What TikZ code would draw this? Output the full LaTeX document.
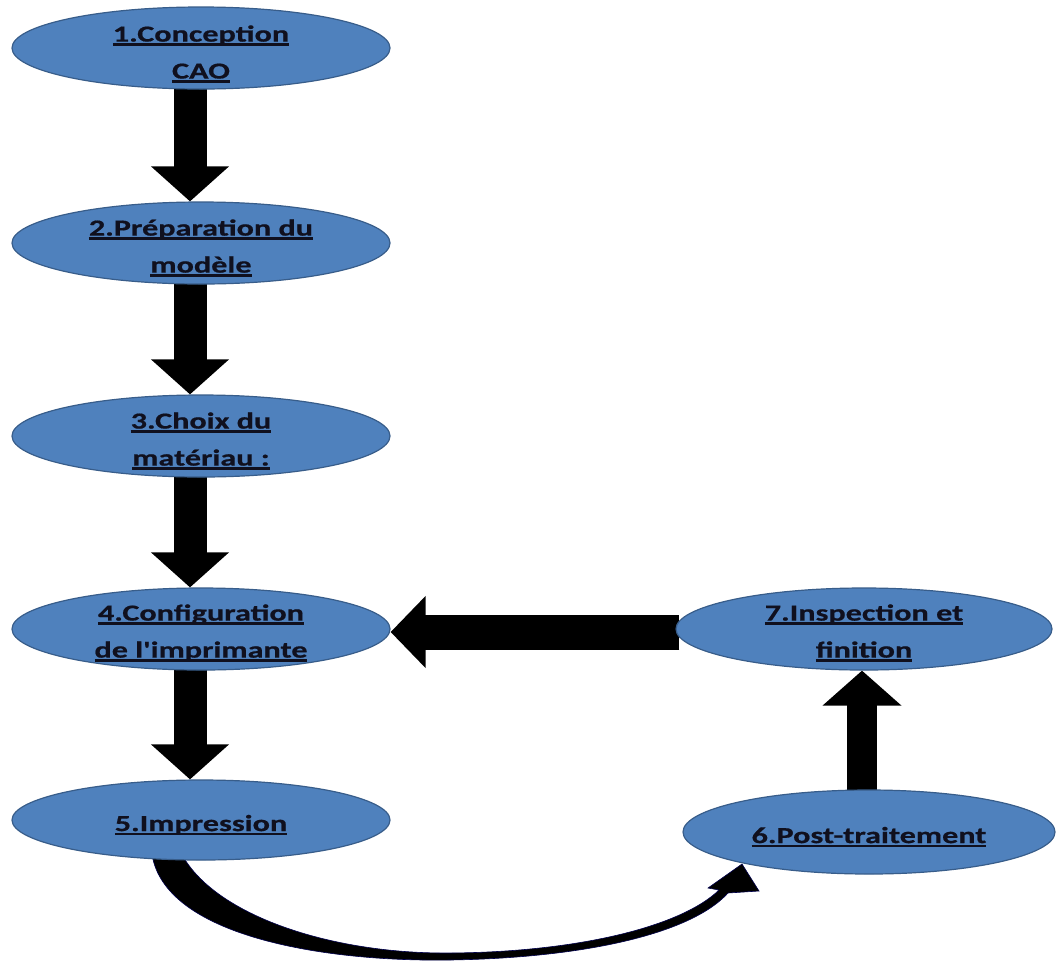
\documentclass[tikz,border=0pt]{standalone}
\usepackage{fontspec}
\usetikzlibrary{shapes.geometric,arrows.meta}
\newfontfamily\lblfont[FakeStretch=1.4,FakeBold=0.6]{Carlito}
\definecolor{ellfill}{HTML}{4F81BD}
\definecolor{elldraw}{HTML}{385D8A}
\definecolor{txtcol}{HTML}{10101E}
\newcommand\uln[1]{\setbox0\hbox{#1}\rlap{\rule[-4pt]{\wd0}{2.2pt}}\box0}
\pgfdeclarelayer{bg}
\pgfsetlayers{bg,main}
\begin{document}
\begin{tikzpicture}[x=1pt,y=-1pt,
  ell/.style={ellipse, fill=ellfill, draw=elldraw, line width=1.2pt, inner sep=0pt},
  lbl/.style={font=\lblfont\bfseries\fontsize{23}{37}\selectfont, text=txtcol, align=center, inner sep=0pt},
  vblk/.style={line width=33pt, draw=black, -{Triangle[width=76pt,length=35pt]}},
  hblk/.style={line width=35pt, draw=black, -{Triangle[width=70pt,length=35pt]}},
  ublk/.style={line width=30pt, draw=black, -{Triangle[width=77pt,length=35pt]}},
  carrow/.style={fill=black, draw=black!70!blue, line width=0.6pt}
]
\useasboundingbox (0,0) rectangle (1057,962);

% ellipses
\node[ell, minimum width=378pt, minimum height=82pt] (e1) at (201,48) {};
\node[ell, minimum width=378pt, minimum height=82pt] (e2) at (201,243) {};
\node[ell, minimum width=378pt, minimum height=82pt] (e3) at (201,436) {};
\node[ell, minimum width=378pt, minimum height=82pt] (e4) at (201,629) {};
\node[ell, minimum width=378pt, minimum height=80pt] (e5) at (201,820) {};
\node[ell, minimum width=372pt, minimum height=84pt] (e6) at (869,832) {};
\node[ell, minimum width=376pt, minimum height=82pt] (e7) at (864,629) {};

% labels
\node[lbl] (t1) at ([yshift=-6pt]e1.center) {\uln{1.Conception}\\\uln{CAO}};
\node[lbl] (t2) at ([yshift=-5pt]e2.center) {\uln{2.Préparation du}\\\uln{modèle}};
\node[lbl] (t3) at ([yshift=-5pt]e3.center) {\uln{3.Choix du}\\\uln{matériau :}};
\node[lbl] (t4) at ([yshift=-4pt]e4.center) {\uln{4.Configuration}\\\uln{de l'imprimante}};
\node[lbl] (t5) at ([yshift=-5pt]e5.center) {\uln{5.Impression}};
\node[lbl] (t6) at ([yshift=-5pt]e6.center) {\uln{6.Post-traitement}};
\node[lbl] (t7) at ([yshift=-4pt]e7.center) {\uln{7.Inspection et}\\\uln{finition}};

\begin{pgfonlayer}{bg}
\fill[white] (0,0) rectangle (1057,962);
\draw[vblk] ([xshift=-11pt,yshift=4pt]e1.south) -- ([xshift=-11pt]e2.north);
\draw[vblk] ([xshift=-11pt,yshift=4pt]e2.south) -- ([xshift=-11pt]e3.north);
\draw[vblk] ([xshift=-11pt,yshift=4pt]e3.south) -- ([xshift=-11pt]e4.north);
\draw[vblk] ([xshift=-11pt,yshift=4pt]e4.south) -- ([xshift=-11pt]e5.north);
\draw[hblk] ([xshift=4pt,yshift=-3pt]e7.west) -- ([yshift=-3pt]e4.east);
\draw[ublk] ([xshift=-7pt,yshift=-4pt]e6.north) -- ([xshift=-2pt]e7.south);
\fill[carrow] ([shift={(-49,-6)}]e5.south)
  .. controls (165,935) and (320,962) .. (450,960)
  .. controls (580,958) and (690,935) .. (728,893)
  -- (759,891) -- (742,864) -- (708,888) -- (719,890)
  .. controls (682,926) and (580,952) .. (450,953)
  .. controls (330,954) and (215,915) .. ([shift={(-19,-6)}]e5.south)
  -- cycle;
\end{pgfonlayer}
\end{tikzpicture}
\end{document}
